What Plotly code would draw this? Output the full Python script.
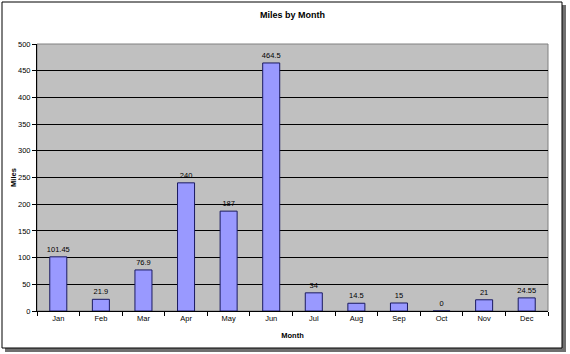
import plotly.graph_objects as go

months = ["Jan", "Feb", "Mar", "Apr", "May", "Jun", "Jul", "Aug", "Sep", "Oct", "Nov", "Dec"]
miles = [101.45, 21.9, 76.9, 240, 187, 464.5, 34, 14.5, 15, 0, 21, 24.55]
labels = ["101.45", "21.9", "76.9", "240", "187", "464.5", "34", "14.5", "15", "0", "21", "24.55"]

L, R, T, B = 37, 22, 44, 43
W, H = 570, 354
pw, ph = W - L - R, H - T - B

def px(x):
    return (x - L) / pw

def py(y):
    return (H - B - y) / ph

FONT = "Arial, Liberation Sans, sans-serif"

fig = go.Figure()
fig.add_trace(go.Bar(
    x=months, y=miles, text=labels, textposition="outside",
    constraintext="none",
    textfont=dict(size=7.5, color="#000000", family=FONT),
    marker=dict(color="#9999FF", line=dict(color="#1a1a60", width=1)),
    width=0.4, cliponaxis=False,
))

shapes = [
    dict(type="rect", xref="paper", yref="paper", layer="below",
         x0=px(5), x1=px(566), y0=py(5), y1=py(352),
         fillcolor="#6f6f6f", line=dict(width=0)),
    dict(type="rect", xref="paper", yref="paper", layer="below",
         x0=px(2), x1=px(562), y0=py(2), y1=py(348),
         fillcolor="#ffffff", line=dict(color="#000000", width=1)),
    dict(type="rect", xref="paper", yref="paper", layer="below",
         x0=0, x1=1, y0=0, y1=1,
         fillcolor="#C0C0C0", line=dict(color="#808080", width=1)),
]

fig.update_layout(
    template="none",
    width=W, height=H,
    margin=dict(l=L, r=R, t=T, b=B),
    paper_bgcolor="#ffffff", plot_bgcolor="rgba(0,0,0,0)",
    shapes=shapes,
    showlegend=False,
    font=dict(family=FONT, size=7.5, color="#000000"),
    title=dict(text="<b>Miles by Month</b>", x=0.5, xref="paper", xanchor="center",
               y=1 - 15 / H, yanchor="middle",
               font=dict(size=9, family=FONT, color="#000000")),
    bargap=0.6,
)
fig.update_xaxes(
    showline=True, linecolor="#000000", linewidth=1,
    ticks="outside", tickson="boundaries", ticklen=4, tickcolor="#000000",
    showgrid=False,
    tickfont=dict(size=7.5, color="#000000", family=FONT),
    title=dict(text="<b>Month</b>", font=dict(size=7.5, color="#000000", family=FONT), standoff=10),
)
fig.update_yaxes(
    range=[0, 500], dtick=50,
    showline=True, linecolor="#000000", linewidth=1,
    ticks="outside", ticklen=4, tickcolor="#000000",
    showgrid=True, gridcolor="#000000", gridwidth=1,
    zeroline=False,
    tickfont=dict(size=7.5, color="#000000", family=FONT),
    title=dict(text="<b>Miles</b>", font=dict(size=7.5, color="#000000", family=FONT), standoff=0),
)

fig.write_html("out.html")
